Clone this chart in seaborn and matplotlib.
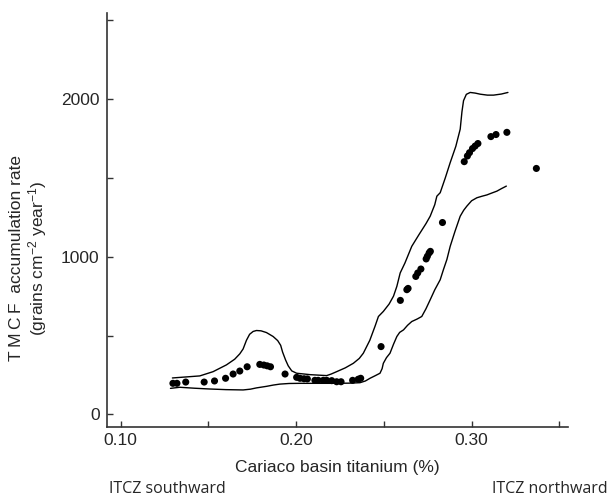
import pandas as pd
import matplotlib
matplotlib.use("Agg")
import matplotlib.pyplot as plt
import seaborn as sns

# Sample points: Cariaco titanium (%) vs TMCF accumulation rate
ti_pts = [0.1298, 0.1321, 0.1371, 0.1476, 0.1535, 0.1598, 0.1641, 0.1679, 0.1721,
          0.1793, 0.1816, 0.1835, 0.1854, 0.1937, 0.2003, 0.2022, 0.2045, 0.2064,
          0.2107, 0.2126, 0.2155, 0.2174, 0.2203, 0.2231, 0.2256, 0.2322, 0.2354,
          0.2368, 0.2484, 0.2594, 0.2631, 0.2638, 0.2682, 0.2693, 0.2711, 0.2741,
          0.2748, 0.2758, 0.2765, 0.2834, 0.2958, 0.2976, 0.2988, 0.3005, 0.3020,
          0.3036, 0.3110, 0.3139, 0.3201, 0.3369]
rate_pts = [197, 197, 205, 205, 212, 229, 256, 275, 302,
            317, 313, 308, 302, 256, 235, 229, 226, 225,
            216, 216, 216, 216, 214, 207, 207, 216, 223,
            229, 430, 723, 791, 799, 875, 897, 922, 986,
            1003, 1024, 1034, 1217, 1603, 1639, 1660, 1686, 1702,
            1718, 1762, 1775, 1789, 1560]

# Upper envelope
upper_x = [0.1295, 0.1451, 0.1527, 0.1603, 0.1650, 0.1679, 0.1698, 0.1717, 0.1735,
           0.1755, 0.1774, 0.1800, 0.1831, 0.1869, 0.1895, 0.1912, 0.1923, 0.1940,
           0.1955, 0.1975, 0.2003, 0.2080, 0.2174, 0.2200, 0.2231, 0.2280, 0.2326,
           0.2360, 0.2383, 0.2420, 0.2450, 0.2469, 0.2497, 0.2530, 0.2555, 0.2574,
           0.2593, 0.2620, 0.2659, 0.2700, 0.2740, 0.2764, 0.2790, 0.2802, 0.2821,
           0.2850, 0.2878, 0.2910, 0.2935, 0.2945, 0.2954, 0.2970, 0.2992, 0.3020,
           0.3049, 0.3090, 0.3125, 0.3170, 0.3207]
upper_y = [231, 244, 271, 314, 350, 384, 415, 470, 508,
           526, 532, 530, 519, 494, 468, 438, 395, 345,
           308, 276, 261, 252, 246, 256, 271, 295, 324,
           355, 388, 470, 560, 621, 653, 700, 750, 812,
           897, 960, 1066, 1140, 1210, 1257, 1330, 1384, 1406,
           1500, 1597, 1700, 1809, 1920, 1990, 2030, 2042, 2038,
           2031, 2025, 2025, 2032, 2042]

# Lower envelope
lower_x = [0.1284, 0.1337, 0.1420, 0.1508, 0.1600, 0.1698, 0.1740, 0.1774, 0.1832,
           0.1870, 0.1907, 0.1960, 0.2021, 0.2193, 0.2300, 0.2364, 0.2395, 0.2421,
           0.2450, 0.2478, 0.2490, 0.2497, 0.2515, 0.2535, 0.2555, 0.2574, 0.2590,
           0.2612, 0.2635, 0.2659, 0.2690, 0.2716, 0.2740, 0.2764, 0.2790, 0.2821,
           0.2840, 0.2859, 0.2878, 0.2905, 0.2935, 0.2955, 0.2973, 0.3000, 0.3030,
           0.3060, 0.3087, 0.3115, 0.3144, 0.3170, 0.3198]
lower_y = [165, 172, 166, 161, 157, 155, 160, 168, 178,
           186, 192, 196, 197, 197, 198, 201, 212, 229,
           245, 261, 290, 324, 360, 388, 445, 494, 520,
           536, 565, 589, 605, 621, 670, 727, 790, 854,
           920, 982, 1066, 1160, 1257, 1295, 1321, 1355, 1374,
           1384, 1392, 1404, 1416, 1432, 1448]

sns.set_style("ticks")
plt.rcParams["font.family"] = ["Liberation Sans", "DejaVu Sans"]
plt.rcParams["mathtext.default"] = "regular"

fig = plt.figure(figsize=(6.12, 5.03), dpi=100)
ax = fig.add_axes([0.1753, 0.1511, 0.7533, 0.8237])

pts = pd.DataFrame({"ti": ti_pts, "rate": rate_pts})
up = pd.DataFrame({"ti": upper_x, "rate": upper_y})
lo = pd.DataFrame({"ti": lower_x, "rate": lower_y})

sns.lineplot(data=up, x="ti", y="rate", sort=False, estimator=None,
             color="black", linewidth=1.0, ax=ax)
sns.lineplot(data=lo, x="ti", y="rate", sort=False, estimator=None,
             color="black", linewidth=1.0, ax=ax)
sns.scatterplot(data=pts, x="ti", y="rate", color="black", s=26,
                edgecolor="none", ax=ax)

ax.set_xlim(0.0924, 0.3551)
ax.set_ylim(-80, 2548)
xt = [0.10, 0.15, 0.20, 0.25, 0.30, 0.35]
ax.set_xticks(xt)
ax.set_xticklabels(["0.10", "", "0.20", "", "0.30", ""])
yt = [0, 500, 1000, 1500, 2000, 2500]
ax.set_yticks(yt)
ax.set_yticklabels(["0", "", "1000", "", "2000", ""])

for side in ["top", "right"]:
    ax.spines[side].set_visible(False)
for side in ["left", "bottom"]:
    ax.spines[side].set_color("#333333")
    ax.spines[side].set_linewidth(1.2)

ax.tick_params(axis="both", direction="in", length=4.3, width=1.0,
               color="#333333", labelsize=12.5)
ax.tick_params(axis="y", pad=5.5)
ax.tick_params(axis="x", pad=4)

ax.set_xlabel("Cariaco basin titanium (%)", fontsize=12.5, labelpad=9)
ax.set_ylabel("")
fig.text(29 / 612, 1 - 258 / 503,
         "T\u2009M\u2009C\u2009F  accumulation rate\n(grains cm$^{-2}$ year$^{-1}$)",
         fontsize=12.5, rotation=90, ha="center", va="center",
         multialignment="center", linespacing=1.1)

itcz_font = ["Open Sans", "DejaVu Sans"]
fig.text(109 / 612, 1 - 489 / 503, "ITCZ southward", fontsize=11.5,
         family=itcz_font, va="center", ha="left")
fig.text(608 / 612, 1 - 489 / 503, "ITCZ northward", fontsize=11.5,
         family=itcz_font, va="center", ha="right")

fig.savefig("out.png", dpi=100)
